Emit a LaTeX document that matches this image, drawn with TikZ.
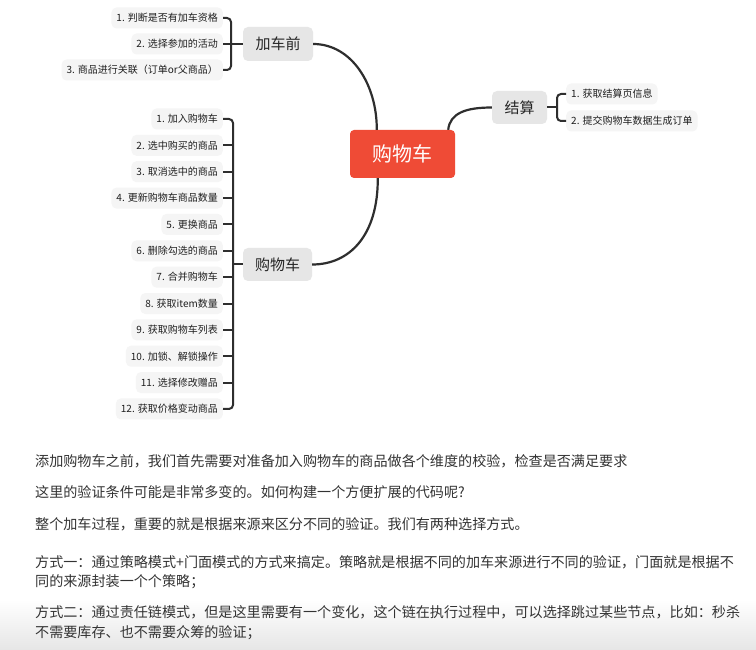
\documentclass[tikz,border=0pt]{standalone}
\usepackage{fontspec}
\setmainfont{Noto Sans CJK SC}
\usetikzlibrary{calc}
\definecolor{mainred}{HTML}{EF4B36}
\definecolor{subgray}{HTML}{E6E6E6}
\definecolor{leafgray}{HTML}{F5F5F5}
\definecolor{linec}{HTML}{2E2E2E}
\definecolor{txt}{HTML}{333333}
\begin{document}
\begin{tikzpicture}[x=1pt,y=-1pt,
 mainbox/.style={fill=mainred, rounded corners=4pt, text=white, minimum width=105pt, minimum height=48pt, font=\fontsize{20}{24}\selectfont, inner sep=0pt},
 subbox/.style={fill=subgray, rounded corners=5pt, text=black!85, minimum height=34pt, font=\fontsize{15}{18}\selectfont, inner sep=0pt},
 leafbox/.style={fill=leafgray, rounded corners=5pt, text=black!88, minimum height=21pt, inner xsep=5pt, inner ysep=0pt, font=\fontsize{10}{12}\selectfont},
 leafl/.style={leafbox, anchor=east},
 leafr/.style={leafbox, anchor=west},
 conn/.style={draw=linec, line width=2.2pt},
 brk/.style={draw=linec, line width=2pt, rounded corners=4pt},
 para/.style={anchor=base west, text=txt, font=\fontsize{14.1}{16}\selectfont, inner sep=0pt}
]
\useasboundingbox (0,0) rectangle (756,650);
\fill[white] (0,0) rectangle (756,650);
\shade[top color=white, bottom color=black!10] (0,600) rectangle (756,650);

% nodes
\node[mainbox] (main) at (402.5,154) {购物车};
\node[subbox, minimum width=70pt] (jcq) at (278,44) {加车前};
\node[subbox, minimum width=55pt, minimum height=33pt] (js) at (519.5,107.5) {结算};
\node[subbox, minimum width=69pt, minimum height=33pt] (gwc) at (277.5,264.5) {购物车};

% leaves of jcq
\node[leafl] (a1) at (223,18) {1. 判断是否有加车资格};
\node[leafl] (a2) at (223,44) {2. 选择参加的活动};
\node[leafl] (a3) at (223,70) {3. 商品进行关联（订单or父商品）};

% leaves of js
\node[leafr] (b1) at (566,94) {1. 获取结算页信息};
\node[leafr] (b2) at (566,121) {2. 提交购物车数据生成订单};

% leaves of gwc
\foreach \i/\t in {1/{1. 加入购物车},2/{2. 选中购买的商品},3/{3. 取消选中的商品},4/{4. 更新购物车商品数量},5/{5. 更换商品},6/{6. 删除勾选的商品},7/{7. 合并购物车},8/{8. 获取item数量},9/{9. 获取购物车列表},10/{10. 加锁、解锁操作},11/{11. 选择修改赠品},12/{12. 获取价格变动商品}}
  \node[leafl] (c\i) at (223,{119+26.36*(\i-1)}) {\t};

% brackets
\draw[brk] (a1.east) -- (231,18) -- (231,70) -- (a3.east);
\draw[brk] (a2.east) -- (jcq.west);
\draw[brk] (b1.west) -- (557,94) -- (557,121) -- (b2.west);
\draw[brk] (js.east) -- (557,107.5);
\draw[brk] (c1.east) -- (233,119) -- (233,409) -- (c12.east);
\foreach \i in {2,...,11} \draw[brk] (c\i.east) -- (233,{119+26.36*(\i-1)});
\draw[brk] (233,264.5) -- (gwc.west);

% main connectors
\draw[conn] (jcq.east) .. controls (352,44) and (377,85) .. ($(main.north west)+(27,0)$);
\draw[conn] ($(main.south west)+(28,0)$) .. controls (378,235) and (350,264.5) .. (gwc.east);
\draw[conn] ($(main.north east)+(-7,0)$) .. controls (450,113) and (466,107.5) .. (js.west);

% paragraphs
\node[para] (p1) at (35,466) {添加购物车之前，我们首先需要对准备加入购物车的商品做各个维度的校验，检查是否满足要求};
\node[para] (p2) at (35,497) {这里的验证条件可能是非常多变的。如何构建一个方便扩展的代码呢?};
\node[para] (p3) at (35,529) {整个加车过程，重要的就是根据来源来区分不同的验证。我们有两种选择方式。};
\node[para] (p4a) at (35,567) {方式一：通过策略模式+门面模式的方式来搞定。策略就是根据不同的加车来源进行不同的验证，门面就是根据不};
\node[para] (p4b) at (35,586) {同的来源封装一个个策略；};
\node[para] (p5a) at (35,617) {方式二：通过责任链模式，但是这里需要有一个变化，这个链在执行过程中，可以选择跳过某些节点，比如：秒杀};
\node[para] (p5b) at (35,637) {不需要库存、也不需要众筹的验证；};
\end{tikzpicture}
\end{document}
